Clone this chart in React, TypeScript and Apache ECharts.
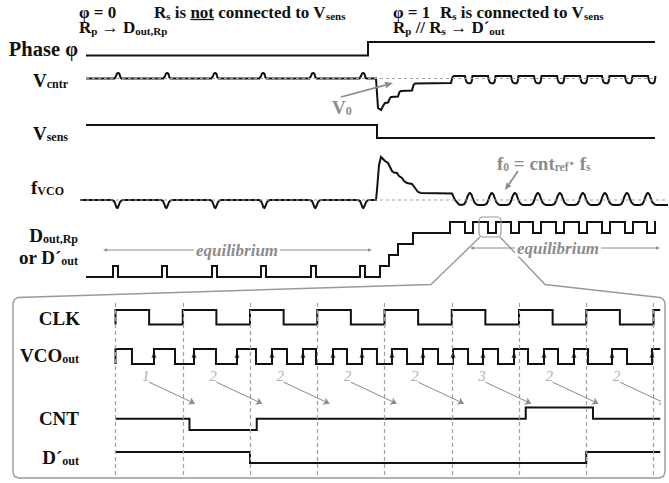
import React, { useEffect, useRef } from "react";
import * as echarts from "echarts";

type Pt = [number, number];

const FONT = "Liberation Serif, Times New Roman, serif";
const INK = "#111";
const GREY = "#8c8c8c";
const GUIDE = "#a0a0a0";

// ---------- upper panel: sensing sequence (time in a.u.) ----------
const phaseLevels: Pt[] = [[6, 0], [288, 1]];
const phaseEnd = 575;

const vsensLevels: Pt[] = [[6, 1], [297, 0]];
const vsensEnd = 575;

// V_cntr (offset from V0)
const vcntrStart: Pt = [6, 0];
const vcntrPulseTimes = [38, 87, 135, 183, 233, 283];
const vcntrSettling: Pt[] = [
  [296, 0], [298, -29.5], [301, -31.5], [303, -27.5], [305, -24.5], [308, -24],
  [310, -19.5], [311, -18.5], [318, -18], [319.5, -13.5], [321, -12.5], [332, -12],
  [333.5, -6.5], [335, -5], [371, -4.5], [372.5, 1.5], [374, 2.5],
];
const vcntrDipTimes = [385, 408, 431, 454, 477, 500, 522, 545, 568];
const vcntrEnd: Pt = [576, 2.5];
const v0Span = [6, 575];

// f_VCO (offset from f0)
const fvcoStart: Pt = [0, 0];
const fvcoDipTimes = [37, 86, 135, 184, 235, 283];
const fvcoSettling: Pt[] = [
  [296, 0], [297, 10], [299, 35], [301, 43], [303, 41], [305, 39], [308, 37],
  [310, 33], [312, 29], [314, 27.5], [317, 27], [319, 24], [322, 22], [324, 19],
  [327, 17], [332, 16], [335, 12], [338, 8], [341, 7], [372, 6.5], [375, 0], [379, -4.5],
];
const fvcoHumpTimes = [390, 412, 435, 458, 480, 503, 525, 547, 568];
const fvcoEnd: Pt = [588, -5];
const f0Span = [0, 588];

// D_out,Rp / D'out code level
const doutStart: Pt = [6, 0];
const doutPulseTimes = [33, 82, 132, 181, 231, 280];
const doutPulseWidth = 5;
const doutStairs: Pt[] = [[300, 1], [309, 2], [318, 3], [333, 4], [370, 5]];
const doutDipTimes = [385, 408, 431, 453, 476, 499, 522, 545, 567];
const doutDipWidth = 8;
const doutEnd = 576;

// glyph shapes of the repeated disturbances (relative time, level)
const bumpShape: Pt[] = [[-3.5, 0], [-2, 2.5], [-1, 5], [0.5, 5.5], [1.5, 4.5], [2.5, 1], [3.5, 0]];
const vDipShape: Pt[] = [[0, 2.5], [0.7, -1], [1.7, -3.8], [3.5, -4.8], [5.5, -4.8], [6.5, -3.5], [7, -1], [7.5, 2.5]];
const fDipShape: Pt[] = [[-5, 0], [-3, -1], [-1.5, -4.5], [-0.5, -7.5], [0.5, -8], [1.5, -6], [3, -2], [4.5, -0.5], [6, 0]];
const humpShape: Pt[] = [[-8, -5], [-5.5, -4], [-4, -1], [-2.5, 3.5], [-1, 6.5], [0, 7], [1.5, 5.5], [3, 1], [4.5, -2.5], [6.5, -4.5], [8, -5]];

// ---------- lower panel: one conversion window (time in CLK periods) ----------
const clkRise = [0, 1, 2, 3, 4, 5, 6, 7, 8];
const clkFall = [0.5, 1.5, 2.5, 3.5, 4.5, 5.5, 6.5, 7.5];
const vcoRise = [0.572, 1.167, 1.807, 2.327, 2.788, 3.234, 3.665, 4.111, 4.572, 5.019, 5.465, 5.926, 6.372, 6.818, 7.383, 7.978];
const vcoFall = [0.245, 0.885, 1.494, 2.089, 2.55, 2.981, 3.442, 3.888, 4.335, 4.796, 5.242, 5.688, 6.134, 6.58, 7.026, 7.606];
const counts = [1, 2, 2, 2, 2, 3, 2, 2];
const cntInitial = 2;
const cntLatchDelay = 0.1;
const dPrimeOut = [1, 1, 0, 0, 0, 0, 0, 1, 1];
const panelEnd = 8.1;

// ---------- helpers ----------
const steps = (changes: Pt[], end: number): Pt[] => {
  const out: Pt[] = [];
  changes.forEach(([x, y], i) => {
    if (i > 0) out.push([x, changes[i - 1][1]]);
    out.push([x, y]);
  });
  out.push([end, changes[changes.length - 1][1]]);
  return out;
};
const place = (shape: Pt[], at: number): Pt[] => shape.map(([dx, v]) => [at + dx, v] as Pt);

const vcntrData: Pt[] = [
  vcntrStart,
  ...vcntrPulseTimes.flatMap((t) => place(bumpShape, t)),
  ...vcntrSettling,
  ...vcntrDipTimes.flatMap((t) => place(vDipShape, t)),
  vcntrEnd,
];
const fvcoData: Pt[] = [
  fvcoStart,
  ...fvcoDipTimes.flatMap((t) => place(fDipShape, t)),
  ...fvcoSettling,
  ...fvcoHumpTimes.flatMap((t) => place(humpShape, t)),
  fvcoEnd,
];
const doutData = steps(
  [
    doutStart,
    ...doutPulseTimes.flatMap((t) => [[t, 1], [t + doutPulseWidth, 0]] as Pt[]),
    ...doutStairs,
    ...doutDipTimes.flatMap((t) => [[t, 4], [t + doutDipWidth, 5]] as Pt[]),
  ],
  doutEnd
);

const clkData = steps(
  [[0, 0] as Pt, ...[...clkRise.map((x) => [x, 1] as Pt), ...clkFall.map((x) => [x, 0] as Pt)].sort((a, b) => a[0] - b[0])],
  panelEnd
);
const vcoData = steps(
  [[0, 0] as Pt, [0, 1] as Pt, ...[...vcoRise.map((x) => [x, 1] as Pt), ...vcoFall.map((x) => [x, 0] as Pt)].sort((a, b) => a[0] - b[0])],
  panelEnd
);
const cntData = steps(
  [[0, cntInitial] as Pt, ...counts.map((c, k) => [k + 1 + cntLatchDelay, c] as Pt)],
  panelEnd
);
const dPrimeChanges: Pt[] = [];
dPrimeOut.forEach((v, k) => {
  if (k === 0 || v !== dPrimeOut[k - 1]) dPrimeChanges.push([k, v]);
});
const dPrimeData = steps(dPrimeChanges, panelEnd);

// ---------- text helpers ----------
const measure = (txt: string, size: number, weight = "bold") => {
  const ctx = document.createElement("canvas").getContext("2d")!;
  ctx.font = `${weight} ${size}px ${FONT}`;
  return ctx.measureText(txt).width;
};

const SUB_DROP = 3.5;
const richText = (
  x: number, y: number, text: string, size: number, sub: number,
  align: "left" | "right" | "center" = "left", fill = INK, extra: any = {}
) => {
  const line = Math.max(size + 1, sub + 2 * SUB_DROP);
  return {
    type: "text",
    x, y, z: 20,
    style: {
      text, fill, fontFamily: FONT, fontSize: size, fontWeight: "bold",
      align, textAlign: align, verticalAlign: "middle", textVerticalAlign: "middle",
      lineHeight: line,
      rich: {
        s: {
          fontSize: sub, fontWeight: "bold", fontFamily: FONT, fill,
          lineHeight: line - 2 * SUB_DROP, verticalAlign: "bottom",
        },
      },
      ...extra,
    },
  };
};

const arrow = (x1: number, y1: number, x2: number, y2: number, color: string, head = 7, width = 1.6): any[] => {
  const dx = x2 - x1, dy = y2 - y1, L = Math.hypot(dx, dy), ux = dx / L, uy = dy / L;
  const bx = x2 - ux * head, by = y2 - uy * head, hw = head * 0.42;
  return [
    { type: "line", z: 15, shape: { x1, y1, x2: bx, y2: by }, style: { stroke: color, lineWidth: width } },
    { type: "polygon", z: 15, shape: { points: [[x2, y2], [bx - uy * hw, by + ux * hw], [bx + uy * hw, by - ux * hw]] }, style: { fill: color } },
  ];
};

const eqSpan = (x1: number, x2: number, y: number, label: number): any[] => [
  ...arrow(label, y, x1, y, GREY, 4, 1),
  ...arrow(label, y, x2, y, GREY, 4, 1),
  {
    type: "text", x: label, y, z: 18,
    style: {
      text: "equilibrium", fill: GREY, fontFamily: FONT, fontSize: 17, fontWeight: "bold", fontStyle: "italic",
      align: "center", textAlign: "center", verticalAlign: "middle", textVerticalAlign: "middle",
      backgroundColor: "#fff", padding: [0, 2],
    },
  },
];

export default function App() {
  const ref = useRef<HTMLDivElement>(null);

  useEffect(() => {
    if (!ref.current) return;
    const chart = echarts.init(ref.current, undefined, { renderer: "svg" });

    const grids: any[] = [];
    const xAxes: any[] = [];
    const yAxes: any[] = [];
    const series: any[] = [];

    const TOP = { left: 80, width: 589, min: 0, max: 589 };
    const BOT = { left: 115.5 - 0.06 * 67.25, width: 8.16 * 67.25, min: -0.06, max: panelEnd };

    const row = (x: typeof TOP, top: number, height: number, ymin: number, ymax: number, inverse = false) => {
      const i = grids.length;
      grids.push({ left: x.left, width: x.width, top, height, show: false });
      xAxes.push({ type: "value", gridIndex: i, min: x.min, max: x.max, show: false });
      yAxes.push({ type: "value", gridIndex: i, min: ymin, max: ymax, show: false, inverse });
      return i;
    };
    const trace = (i: number, data: Pt[], extra: any = {}) =>
      series.push({
        type: "line", xAxisIndex: i, yAxisIndex: i, data, symbol: "none", silent: true, clip: false,
        z: 3, lineStyle: { color: INK, width: 2, join: "miter" }, ...extra,
      });
    const dashed = (i: number, span: number[], level: number) =>
      trace(i, [[span[0], level], [span[1], level]], { z: 4, lineStyle: { color: GUIDE, width: 1.2, type: [3, 3] } });

    // upper panel rows
    const gPhase = row(TOP, 42, 13.5, 0, 1);
    trace(gPhase, steps(phaseLevels, phaseEnd));
    const gVc = row(TOP, 70, 42, -33.5, 8.5);
    trace(gVc, vcntrData);
    dashed(gVc, v0Span, 0);
    const gVs = row(TOP, 125, 13, 0, 1);
    trace(gVs, steps(vsensLevels, vsensEnd));
    const gF = row(TOP, 150, 62, -12, 50);
    trace(gF, fvcoData);
    dashed(gF, f0Span, 0);
    const gD = row(TOP, 222, 55, 0, 5);
    trace(gD, doutData);

    // lower panel rows
    const gGuide = row(BOT, 303, 174, 0, 1, true);
    series.push({
      type: "line", xAxisIndex: gGuide, yAxisIndex: gGuide, data: [[0, 0]], symbol: "none", silent: true,
      lineStyle: { opacity: 0 }, z: 1,
      markLine: {
        silent: true, symbol: ["none", "none"], label: { show: false },
        lineStyle: { color: GUIDE, width: 1.2, type: [4, 3] },
        data: clkRise.map((x) => ({ xAxis: x })),
      },
    });
    series.push({
      type: "scatter", xAxisIndex: gGuide, yAxisIndex: gGuide, silent: true, symbolSize: 2,
      itemStyle: { color: "rgba(0,0,0,0)" }, z: 5,
      data: counts.map((c, k) => [k + 0.45, 0.42, c]),
      label: {
        show: true, position: "inside", formatter: (p: any) => String(p.value[2]),
        color: "#9a9a9a", fontFamily: FONT, fontStyle: "italic", fontSize: 15,
      },
    });
    series.push({
      type: "lines", coordinateSystem: "cartesian2d", xAxisIndex: gGuide, yAxisIndex: gGuide, silent: true, z: 5,
      symbol: ["none", "arrow"], symbolSize: 6,
      lineStyle: { color: "#8a8a8a", width: 1, opacity: 1, curveness: 0 },
      data: counts.map((_, k) => ({ coords: [[k + 0.5, 0.455], [k + 1.18, 0.578]] })),
    });

    const gClk = row(BOT, 310, 14.5, 0, 1);
    trace(gClk, clkData);
    const gVco = row(BOT, 349, 15, 0, 1);
    trace(gVco, vcoData);
    series.push({
      type: "scatter", xAxisIndex: gVco, yAxisIndex: gVco, silent: true, z: 6,
      symbol: "triangle", symbolSize: [5, 6], itemStyle: { color: INK },
      data: vcoRise.map((x) => [x, 0.62]),
    });
    const gCnt = row(BOT, 407.5, 22.5, 1, 3);
    trace(gCnt, cntData);
    const gDp = row(BOT, 452, 11, 0, 1);
    trace(gDp, dPrimeData);

    // underline position for "not"
    const notX = 154 + measure("R", 17) + measure("s", 11) + measure(" is ", 17);
    const notW = measure("not", 17);

    const graphic: any[] = [
      // headers
      richText(79, 12, "φ = 0", 17, 11),
      richText(154, 12, "R{s|s} is not connected to V{s|sens}", 17, 11),
      { type: "line", z: 20, shape: { x1: notX, y1: 19.5, x2: notX + notW, y2: 19.5 }, style: { stroke: INK, lineWidth: 1.3 } },
      richText(79, 27, "R{s|p} → D{s|out,Rp}", 17, 11),
      richText(393, 12, "φ = 1", 17, 11),
      richText(440, 12, "R{s|s} is connected to V{s|sens}", 17, 11),
      richText(393, 27, "R{s|p} // R{s|s} → D´{s|out}", 17, 11),

      // row labels, upper panel
      richText(78, 49, "Phase φ", 20.5, 12, "right"),
      richText(68, 80, "V{s|cntr}", 19, 12, "right"),
      richText(68, 133, "V{s|sens}", 19, 12, "right"),
      richText(64, 187, "f{s|VCO}", 19, 12, "right"),
      richText(78, 235, "D{s|out,Rp}", 19, 12, "right"),
      richText(78, 257, "or D´{s|out}", 19, 12, "right"),

      // row labels, lower panel
      richText(80, 318, "CLK", 19, 12, "right"),
      richText(79, 355, "VCO{s|out}", 19, 12, "right"),
      richText(79, 418, "CNT", 19, 12, "right"),
      richText(79, 457, "D´{s|out}", 19, 12, "right"),

      // annotations
      richText(332, 107, "V{s|0}", 19, 12, "left", GREY),
      ...arrow(341, 97, 393, 83, GREY, 8, 1.8),
      richText(497, 163, "f{s|0} = cnt{s|ref}· f{s|s}", 19, 11.5, "left", GREY),
      ...arrow(518, 171, 505, 190, GREY, 7, 1.8),
      ...eqSpan(103, 372, 250, 237),
      ...eqSpan(470, 660, 248, 558),

      // magnified window frame
      { type: "rect", z: 12, shape: { x: 479, y: 217, width: 22, height: 20, r: 4 }, style: { stroke: "#999", fill: "none", lineWidth: 1.2 } },
      {
        type: "polyline", z: 12,
        shape: { points: [[13, 472], [13, 303], [14.5, 299.5], [18, 297.5], [431, 284.5], [480, 237]] },
        style: { stroke: "#999", fill: "none", lineWidth: 1.4 },
      },
      {
        type: "polyline", z: 12,
        shape: {
          points: [
            [500, 237], [545, 284.5], [660, 297.5], [663.5, 299.5], [665, 303], [665, 472],
            [663.5, 476.5], [659, 478], [19, 478], [14.5, 476.5], [13, 472],
          ],
        },
        style: { stroke: "#999", fill: "none", lineWidth: 1.4 },
      },
    ];

    chart.setOption({
      animation: false,
      backgroundColor: "#fff",
      grid: grids,
      xAxis: xAxes,
      yAxis: yAxes,
      series,
      graphic,
    });
    return () => chart.dispose();
  }, []);

  return (
    <div
      ref={ref}
      style={{ position: "fixed", left: 0, top: 0, width: 669, height: 483, background: "#fff" }}
    />
  );
}
